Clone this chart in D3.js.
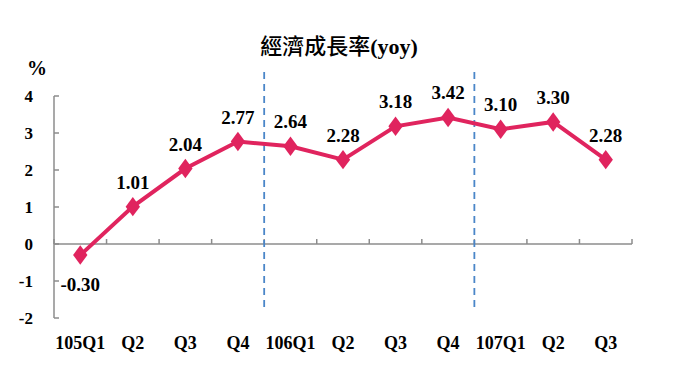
<!DOCTYPE html>
<html>
<head>
<meta charset="utf-8">
<script src="https://cdn.jsdelivr.net/npm/d3@7"></script>
<style>
  body { margin: 0; background: #fff; }
  text { font-family: "Liberation Serif", "Times New Roman", serif; font-weight: bold; }
</style>
</head>
<body>
<svg id="chart" width="680" height="383"></svg>
<script>
// data
var quarters = ["105Q1", "Q2", "Q3", "Q4", "106Q1", "Q2", "Q3", "Q4", "107Q1", "Q2", "Q3"];
var growth = [-0.30, 1.01, 2.04, 2.77, 2.64, 2.28, 3.18, 3.42, 3.10, 3.30, 2.28];
var yTicks = [-2, -1, 0, 1, 2, 3, 4];
var yearBreaks = [4, 8];

var svg = d3.select("#chart"),
    plotLeft = 54, plotRight = 632, plotTop = 96, plotBottom = 318;

var x = d3.scaleBand().domain(d3.range(quarters.length)).range([plotLeft, plotRight]);
var y = d3.scaleLinear().domain([-2, 4]).range([plotBottom, plotTop]);

var axisColor = "#8c8c8c",
    lineColor = "#e0245e";

// title
var title = svg.append("text")
    .attr("x", 339).attr("y", 54)
    .attr("text-anchor", "middle");
title.append("tspan")
    .style("font-family", "'Noto Sans CJK TC', sans-serif")
    .style("font-weight", "500")
    .style("font-size", "22px")
    .text("經濟成長率");
title.append("tspan")
    .style("font-size", "22px")
    .text("(yoy)");

svg.append("text")
    .attr("x", 37).attr("y", 75)
    .attr("text-anchor", "middle")
    .style("font-size", "20px")
    .text("%");

// y axis
svg.append("line")
    .attr("x1", plotLeft).attr("x2", plotLeft)
    .attr("y1", y(4)).attr("y2", y(-2))
    .attr("stroke", axisColor).attr("stroke-width", 1.5);

svg.selectAll(".ytick").data(yTicks).enter().append("line")
    .attr("x1", plotLeft).attr("x2", plotLeft + 5)
    .attr("y1", function(d) { return y(d); })
    .attr("y2", function(d) { return y(d); })
    .attr("stroke", axisColor).attr("stroke-width", 1.5);

svg.selectAll(".ylabel").data(yTicks).enter().append("text")
    .attr("x", 33)
    .attr("y", function(d) { return y(d) + 6; })
    .attr("text-anchor", "end")
    .style("font-size", "17px")
    .text(function(d) { return d; });

// x axis on zero line
svg.append("line")
    .attr("x1", plotLeft).attr("x2", plotRight)
    .attr("y1", y(0)).attr("y2", y(0))
    .attr("stroke", axisColor).attr("stroke-width", 1.5);

svg.selectAll(".xtick").data(d3.range(quarters.length + 1)).enter().append("line")
    .attr("x1", function(i) { return plotLeft + i * x.step(); })
    .attr("x2", function(i) { return plotLeft + i * x.step(); })
    .attr("y1", y(0)).attr("y2", y(0) - 5)
    .attr("stroke", axisColor).attr("stroke-width", 1.5);

svg.selectAll(".xlabel").data(quarters).enter().append("text")
    .attr("x", function(d, i) { return x(i) + x.bandwidth() / 2; })
    .attr("y", 349)
    .attr("text-anchor", "middle")
    .style("font-size", "18px")
    .text(function(d) { return d; });

// year separators
svg.selectAll(".brk").data(yearBreaks).enter().append("line")
    .attr("x1", function(i) { return x(i); })
    .attr("x2", function(i) { return x(i); })
    .attr("y1", 72).attr("y2", 311)
    .attr("stroke", "#4a86c8").attr("stroke-width", 1.8)
    .attr("stroke-dasharray", "7,5");

// line
var cx = function(d, i) { return x(i) + x.bandwidth() / 2; };
var line = d3.line().x(cx).y(function(d) { return y(d); });

svg.append("path")
    .datum(growth)
    .attr("d", line)
    .attr("fill", "none")
    .attr("stroke", lineColor)
    .attr("stroke-width", 4);

svg.selectAll(".pt").data(growth).enter().append("path")
    .attr("d", d3.symbol().type(d3.symbolDiamond).size(135))
    .attr("transform", function(d, i) { return "translate(" + cx(d, i) + "," + y(d) + ") scale(1.15,0.9)"; })
    .attr("fill", lineColor);

svg.selectAll(".val").data(growth).enter().append("text")
    .attr("x", cx)
    .attr("y", function(d) { return d < 0 ? y(d) + 36 : y(d) - 18; })
    .attr("text-anchor", "middle")
    .style("font-size", "19px")
    .text(function(d) { return d.toFixed(2); });
</script>
</body>
</html>
